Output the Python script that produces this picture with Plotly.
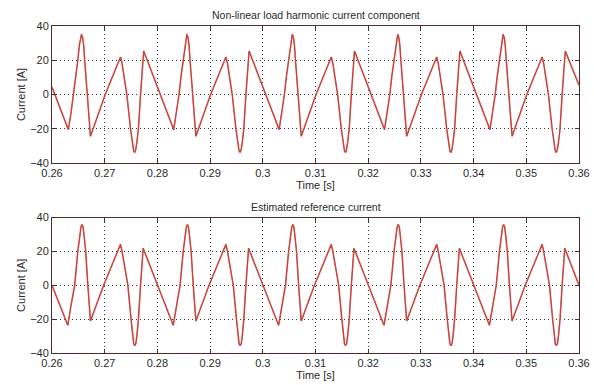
import plotly.graph_objects as go

# ---- Data ----
t_top = [0.2600,
    0.2631,0.2636,0.2641,0.2645,0.2649,0.2652,0.2654,0.2656,0.2658,0.2660,0.2662,0.2667,0.2671,0.2673,0.2701,0.2727,0.2730,0.2733,0.2742,0.2749,0.2753,0.2755,0.2757,0.2759,0.2761,0.2764,0.2768,0.2772,0.2774,
    0.2831,0.2836,0.2841,0.2845,0.2849,0.2852,0.2854,0.2856,0.2858,0.2860,0.2862,0.2867,0.2871,0.2873,0.2901,0.2927,0.2930,0.2933,0.2942,0.2949,0.2953,0.2955,0.2957,0.2959,0.2961,0.2964,0.2968,0.2972,0.2974,
    0.3031,0.3036,0.3041,0.3045,0.3049,0.3052,0.3054,0.3056,0.3058,0.3060,0.3062,0.3067,0.3071,0.3073,0.3101,0.3127,0.3130,0.3133,0.3142,0.3149,0.3153,0.3155,0.3157,0.3159,0.3161,0.3164,0.3168,0.3172,0.3174,
    0.3231,0.3236,0.3241,0.3245,0.3249,0.3252,0.3254,0.3256,0.3258,0.3260,0.3262,0.3267,0.3271,0.3273,0.3301,0.3327,0.3330,0.3333,0.3342,0.3349,0.3353,0.3355,0.3357,0.3359,0.3361,0.3364,0.3368,0.3372,0.3374,
    0.3431,0.3436,0.3441,0.3445,0.3449,0.3452,0.3454,0.3456,0.3458,0.3460,0.3462,0.3467,0.3471,0.3473,0.3501,0.3527,0.3530,0.3533,0.3542,0.3549,0.3553,0.3555,0.3557,0.3559,0.3561,0.3564,0.3568,0.3572,0.3574,
    0.3600]
i_harmonic = [4.3,
    -20.5,-11,0,11,20,29,33.5,35.1,33.5,29,20,0,-20,-24.4,0,19,21.9,18,0,-20,-30,-33,-33.8,-32,-28,-20,0,20,25.4,
    -20.5,-11,0,11,20,29,33.5,35.1,33.5,29,20,0,-20,-24.4,0,19,21.9,18,0,-20,-30,-33,-33.8,-32,-28,-20,0,20,25.4,
    -20.5,-11,0,11,20,29,33.5,35.1,33.5,29,20,0,-20,-24.4,0,19,21.9,18,0,-20,-30,-33,-33.8,-32,-28,-20,0,20,25.4,
    -20.5,-11,0,11,20,29,33.5,35.1,33.5,29,20,0,-20,-24.4,0,19,21.9,18,0,-20,-30,-33,-33.8,-32,-28,-20,0,20,25.4,
    -20.5,-11,0,11,20,29,33.5,35.1,33.5,29,20,0,-20,-24.4,0,19,21.9,18,0,-20,-30,-33,-33.8,-32,-28,-20,0,20,25.4,
    5.5]

t_bot = [0.2600,
    0.2630,0.2636,0.2643,0.2649,0.2652,0.2655,0.2657,0.2659,0.2661,0.2664,0.2668,0.2671,0.2673,0.2698,0.2727,0.2730,0.2733,0.2744,0.2750,0.2753,0.2755,0.2757,0.2759,0.2761,0.2764,0.2768,0.2772,0.2773,
    0.2830,0.2836,0.2843,0.2849,0.2852,0.2855,0.2857,0.2859,0.2861,0.2864,0.2868,0.2871,0.2873,0.2898,0.2927,0.2930,0.2933,0.2944,0.2950,0.2953,0.2955,0.2957,0.2959,0.2961,0.2964,0.2968,0.2972,0.2973,
    0.3030,0.3036,0.3043,0.3049,0.3052,0.3055,0.3057,0.3059,0.3061,0.3064,0.3068,0.3071,0.3073,0.3098,0.3127,0.3130,0.3133,0.3144,0.3150,0.3153,0.3155,0.3157,0.3159,0.3161,0.3164,0.3168,0.3172,0.3173,
    0.3230,0.3236,0.3243,0.3249,0.3252,0.3255,0.3257,0.3259,0.3261,0.3264,0.3268,0.3271,0.3273,0.3298,0.3327,0.3330,0.3333,0.3344,0.3350,0.3353,0.3355,0.3357,0.3359,0.3361,0.3364,0.3368,0.3372,0.3373,
    0.3430,0.3436,0.3443,0.3449,0.3452,0.3455,0.3457,0.3459,0.3461,0.3464,0.3468,0.3471,0.3473,0.3498,0.3527,0.3530,0.3533,0.3544,0.3550,0.3553,0.3555,0.3557,0.3559,0.3561,0.3564,0.3568,0.3572,0.3573,
    0.3600]
i_reference = [0,
    -23.6,-12,0,20,29,34.5,35.9,34.5,29,20,0,-14,-21.1,0,22,24.2,20,0,-20,-30,-34.5,-35.7,-34.5,-30,-20,0,20,21.9,
    -23.6,-12,0,20,29,34.5,35.9,34.5,29,20,0,-14,-21.1,0,22,24.2,20,0,-20,-30,-34.5,-35.7,-34.5,-30,-20,0,20,21.9,
    -23.6,-12,0,20,29,34.5,35.9,34.5,29,20,0,-14,-21.1,0,22,24.2,20,0,-20,-30,-34.5,-35.7,-34.5,-30,-20,0,20,21.9,
    -23.6,-12,0,20,29,34.5,35.9,34.5,29,20,0,-14,-21.1,0,22,24.2,20,0,-20,-30,-34.5,-35.7,-34.5,-30,-20,0,20,21.9,
    -23.6,-12,0,20,29,34.5,35.9,34.5,29,20,0,-14,-21.1,0,22,24.2,20,0,-20,-30,-34.5,-35.7,-34.5,-30,-20,0,20,21.9,
    0]

x_ticks = [0.26, 0.27, 0.28, 0.29, 0.30, 0.31, 0.32, 0.33, 0.34, 0.35, 0.36]
x_tick_labels = ["0.26", "0.27", "0.28", "0.29", "0.3", "0.31", "0.32", "0.33", "0.34", "0.35", "0.36"]
y_ticks = [-40, -20, 0, 20, 40]
titles = ["Non-linear load harmonic current component", "Estimated reference current"]

FONT = "Liberation Sans, Arial, sans-serif"
FRAME = "#4a2c2c"
TXT = "#2a2a2a"

fig = go.Figure()
for t, v, xa, ya in [(t_top, i_harmonic, "x", "y"), (t_bot, i_reference, "x2", "y2")]:
    fig.add_trace(go.Scatter(x=t, y=v, mode="lines", xaxis=xa, yaxis=ya,
                             line=dict(color="#f05a50", width=1.6), showlegend=False, hoverinfo="skip"))
    fig.add_trace(go.Scatter(x=t, y=v, mode="lines", xaxis=xa, yaxis=ya,
                             line=dict(color="#8a3a3a", width=0.6), showlegend=False))

def xax(anchor):
    return dict(range=[0.26, 0.36], tickvals=x_ticks, ticktext=x_tick_labels, anchor=anchor,
                domain=[0, 1], showline=True, linecolor=FRAME, linewidth=1, mirror="ticks",
                ticks="inside", ticklen=4, tickcolor=FRAME, automargin=False,
                showgrid=True, gridcolor="#333333", griddash="1px,3px", gridwidth=1,
                zeroline=False, tickfont=dict(family=FONT, size=11, color=TXT),
                title=dict(text="Time [s]", font=dict(family=FONT, size=11, color=TXT), standoff=2))

def yax(anchor, dom):
    return dict(range=[-40, 40], tickvals=y_ticks, anchor=anchor, domain=dom,
                showline=True, linecolor=FRAME, linewidth=1, mirror="ticks",
                ticks="inside", ticklen=4, tickcolor=FRAME, automargin=False,
                showgrid=True, gridcolor="#333333", griddash="1px,3px", gridwidth=1,
                zeroline=False, tickfont=dict(family=FONT, size=11, color=TXT),
                title=dict(text="Current [A]", font=dict(family=FONT, size=11, color=TXT), standoff=2))

fig.update_layout(
    width=594, height=385,
    margin=dict(l=52, r=15, t=26, b=32),
    paper_bgcolor="white", plot_bgcolor="white",
    xaxis=xax("y"), yaxis=yax("x", [0.581, 1.0]),
    xaxis2=xax("y2"), yaxis2=yax("x2", [0.0, 0.414]),
    annotations=[
        dict(text=titles[0], x=0.5, y=1.0, xref="paper", yref="paper", xanchor="center", yanchor="bottom",
             yshift=3, showarrow=False, font=dict(family=FONT, size=10.5, color=TXT)),
        dict(text=titles[1], x=0.5, y=0.414, xref="paper", yref="paper", xanchor="center", yanchor="bottom",
             yshift=3, showarrow=False, font=dict(family=FONT, size=10.5, color=TXT)),
    ],
)

fig.write_html("out.html")
